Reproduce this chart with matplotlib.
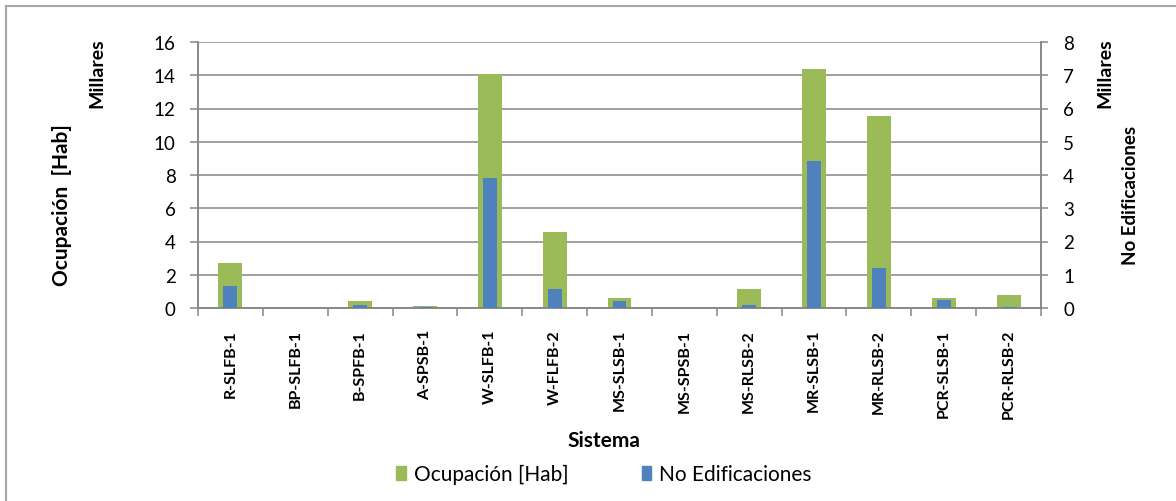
import matplotlib.pyplot as plt
import matplotlib.patches as patches
import numpy as np

sistemas = ['R-SLFB-1', 'BP-SLFB-1', 'B-SPFB-1', 'A-SPSB-1', 'W-SLFB-1', 'W-FLFB-2',
            'MS-SLSB-1', 'MS-SPSB-1', 'MS-RLSB-2', 'MR-SLSB-1', 'MR-RLSB-2',
            'PCR-SLSB-1', 'PCR-RLSB-2']
# miles de habitantes
ocupacion = [2.7, 0.02, 0.4, 0.15, 14.05, 4.57, 0.6, 0.02, 1.14, 14.37, 11.55, 0.6, 0.8]
# miles de edificaciones
edificaciones = [0.67, 0.0, 0.1, 0.02, 3.9, 0.57, 0.2, 0.0, 0.1, 4.42, 1.19, 0.24, 0.02]

verde = '#9BBB59'
azul = '#4F81BD'
gris = '#868686'

plt.rcParams['font.family'] = ['Lato', 'DejaVu Sans']

fig = plt.figure(figsize=(11.76, 5.02), dpi=100)
ax = fig.add_axes([198 / 1176, 1 - 309 / 502, 843 / 1176, 266 / 502])
ax2 = ax.twinx()

x = np.arange(len(sistemas))
ax.bar(x, ocupacion, width=0.37, color=verde, zorder=2)
ax2.bar(x, edificaciones, width=0.215, color=azul, zorder=3)

ax.set_xlim(-0.5, len(sistemas) - 0.5)
ax.set_ylim(0, 16)
ax2.set_ylim(0, 8)
ax.set_yticks(np.arange(0, 17, 2))
ax2.set_yticks(np.arange(0, 9, 1))
ax.yaxis.grid(True, color=gris, linewidth=1.1, zorder=0)
ax.set_axisbelow(True)

ax.set_xticks(x)
ax.set_xticklabels(sistemas, rotation=90, fontweight='bold', fontsize=11.5)
ax.set_xticks(np.arange(-0.5, len(sistemas)), minor=True)
ax.tick_params(axis='x', which='major', length=0, pad=15)
ax.tick_params(axis='x', which='minor', length=6, color=gris, width=1.1)
ax.tick_params(axis='y', length=6, color=gris, width=1.1, labelsize=13.5, pad=10)
ax2.tick_params(axis='y', length=5, color=gris, width=1.1, labelsize=13.5, pad=11)

for a in (ax, ax2):
    a.spines['top'].set_visible(False)
    for s in ('left', 'right', 'bottom'):
        a.spines[s].set_color(gris)
        a.spines[s].set_linewidth(1.1)

fig.text(62 / 1176, 1 - 205 / 502, 'Ocupación  [Hab]', rotation=90, ha='center', va='center',
         fontsize=15, fontweight='bold')
fig.text(97 / 1176, 1 - 73 / 502, 'Millares', rotation=90, ha='center', va='center',
         fontsize=14, fontweight='bold')
fig.text(1105 / 1176, 1 - 73 / 502, 'Millares', rotation=90, ha='center', va='center',
         fontsize=14, fontweight='bold')
fig.text(1131 / 1176, 1 - 195 / 502, 'No Edificaciones', rotation=90, ha='center', va='center',
         fontsize=13.5, fontweight='bold')
fig.text(604 / 1176, 1 - 441 / 502, 'Sistema', ha='center', va='center',
         fontsize=15, fontweight='bold')

h1 = patches.Patch(color=verde)
h2 = patches.Patch(color=azul)
fig.legend([h1, h2], ['Ocupación [Hab]', 'No Edificaciones'], loc='center',
           bbox_to_anchor=(604 / 1176, 1 - 475 / 502), ncol=2, frameon=False,
           fontsize=15, handlelength=0.47, handleheight=0.65, handletextpad=0.37,
           columnspacing=3.5, borderpad=0.1)

# marco de la figura (solo borde superior e izquierdo visibles)
fig.add_artist(plt.Line2D([6 / 1176, 6 / 1176], [0, 1 - 7 / 502], transform=fig.transFigure,
                          color='#a6a6a6', linewidth=1.5))
fig.add_artist(plt.Line2D([6 / 1176, 1], [1 - 7 / 502, 1 - 7 / 502], transform=fig.transFigure,
                          color='#a6a6a6', linewidth=1.5))

fig.savefig('out.png', dpi=100)
